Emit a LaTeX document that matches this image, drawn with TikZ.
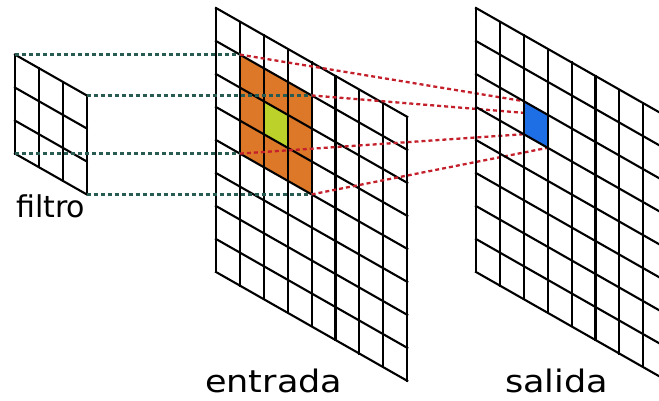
\documentclass[tikz,border=0pt]{standalone}
\usepackage{fontspec}
\setmainfont{DejaVu Sans}
\usetikzlibrary{positioning}
\definecolor{convorange}{RGB}{220,120,40}
\definecolor{convlime}{RGB}{188,210,42}
\definecolor{convblue}{RGB}{30,110,230}
\definecolor{convteal}{RGB}{40,92,82}
\definecolor{convred}{RGB}{196,32,44}

% skewed grid: #1,#2 = top left corner, #3 columns, #4 rows
\newcommand{\skewgrid}[4]{%
  \foreach \i in {0,...,#3}
    \draw[gridline] (#1+23.9*\i, #2+13.6*\i) -- ++(0, 33*#4);
  \foreach \j in {0,...,#4}
    \draw[gridline] (#1, #2+33*\j) -- ++(23.9*#3, 13.6*#3);
}

\begin{document}
\begin{tikzpicture}[x=1pt, y=-1pt,
                    gridline/.style = {line width=2.1pt, line cap=rect, black},
                    mapline/.style = {line width=2.3pt, dash pattern=on 4pt off 3pt},
                    label/.style = {font=\fontsize{31}{33}\selectfont, inner sep=0pt, anchor=base west}
                   ]
    \clip (0,0) rectangle (659,400);
    \fill[white] (0,0) rectangle (659,400);

    % window in the input and its centre cell
    \coordinate (entrada-nw) at (239.9, 54.6);
    \coordinate (entrada-ne) at (311.6, 95.4);
    \coordinate (entrada-se) at (311.6, 194.4);
    \coordinate (entrada-sw) at (239.9, 153.6);
    \fill[convorange] (entrada-nw) -- (entrada-ne) -- (entrada-se) -- (entrada-sw) -- cycle;
    \fill[convlime] (263.8, 101.2) -- (287.7, 114.8) -- (287.7, 147.8) -- (263.8, 134.2) -- cycle;
    \skewgrid{216}{8}{8}{8}

    % the filter
    \coordinate (filtro-nw) at (15, 54.6);
    \coordinate (filtro-ne) at (86.7, 95.4);
    \coordinate (filtro-se) at (86.7, 194.4);
    \coordinate (filtro-sw) at (15, 153.6);
    \skewgrid{15}{54.6}{3}{3}

    \draw[mapline, convteal] (filtro-nw) -- (entrada-nw);
    \draw[mapline, convteal] (filtro-ne) -- (entrada-ne);
    \draw[mapline, convteal] (filtro-sw) -- (entrada-sw);
    \draw[mapline, convteal] (filtro-se) -- (entrada-se);

    % output cell
    \coordinate (salida-nw) at (523.8, 101.2);
    \coordinate (salida-ne) at (547.7, 114.8);
    \coordinate (salida-se) at (547.7, 147.8);
    \coordinate (salida-sw) at (523.8, 134.2);

    \draw[mapline, convred] (entrada-nw) -- (salida-nw);
    \draw[mapline, convred] (entrada-ne) -- (salida-ne);
    \draw[mapline, convred] (entrada-sw) -- (salida-sw);
    \draw[mapline, convred] (entrada-se) -- (salida-se);

    \fill[convblue] (salida-nw) -- (salida-ne) -- (salida-se) -- (salida-sw) -- cycle;
    \skewgrid{476}{8}{8}{8}

    \node[label] (lblfiltro) at (16, 217) {\fontsize{30}{32}\selectfont filtro};
    \node[label] (lblentrada) at (205, 392) {\scalebox{1.13}[1]{entrada}};
    \node[label] (lblsalida) at (505, 392) {\scalebox{1.13}[1]{salida}};
\end{tikzpicture}
\end{document}
